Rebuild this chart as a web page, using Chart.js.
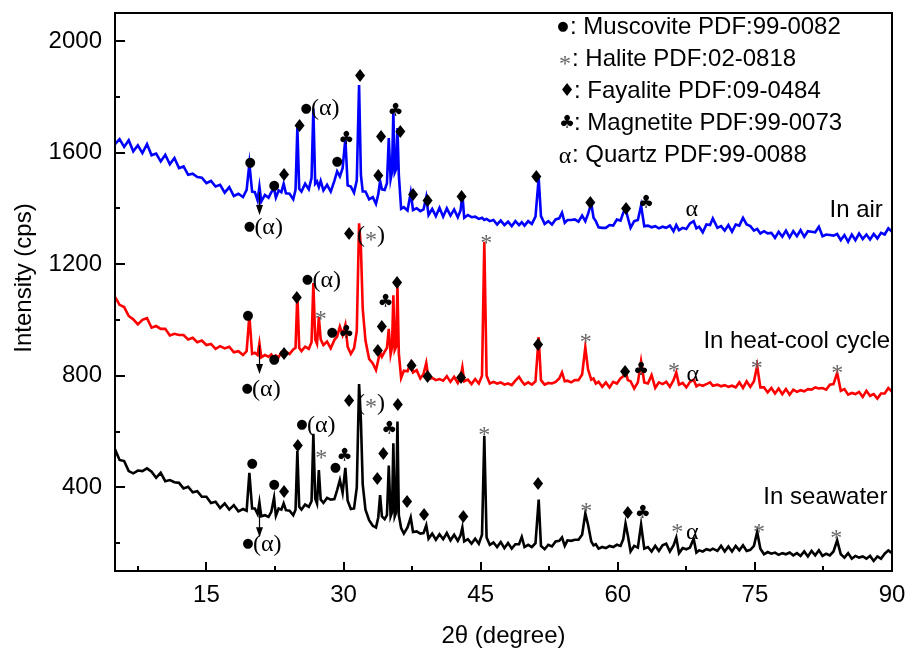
<!DOCTYPE html>
<html>
<head>
<meta charset="utf-8">
<script src="https://cdn.jsdelivr.net/npm/chart.js@4.4.0/dist/chart.umd.min.js"></script>
<style>
  html, body { margin: 0; padding: 0; background: #fff; }
</style>
</head>
<body>
<canvas id="xrd" width="906" height="649"></canvas>
<script>
// 2θ grid shared by the three patterns (degrees)
const twoTheta = [
  5, 5.5, 6, 6.5, 7, 7.5, 8, 8.5, 9, 9.5,
  10, 10.5, 11, 11.5, 12, 12.5, 13, 13.5, 14, 14.5,
  15, 15.5, 16, 16.5, 17, 17.5, 18, 18.5, 19, 19.4,
  19.7, 20.0, 20.3, 20.6, 20.8, 21.0, 21.4, 21.8, 22.1, 22.4,
  22.6, 22.9, 23.2, 23.45, 23.7, 24.1, 24.5, 24.75, 24.95, 25.15,
  25.4, 25.8, 26.2, 26.5, 26.7, 26.9, 27.1, 27.3, 27.5, 27.8,
  28.2, 28.6, 29.0, 29.3, 29.6, 29.9, 30.2, 30.45, 30.8, 31.15,
  31.45, 31.7, 31.9, 32.1, 32.4, 32.8, 33.2, 33.55, 33.8, 34.0,
  34.2, 34.5, 34.75, 34.95, 35.15, 35.3, 35.45, 35.6, 35.75, 35.9,
  36.05, 36.3, 36.6, 37.0, 37.35, 37.6, 38.0, 38.4, 38.75, 39.05,
  39.3, 39.7, 40.1, 40.5, 40.9, 41.3, 41.7, 42.1, 42.5, 42.8,
  43.0, 43.2, 43.6, 44.0, 44.4, 44.8, 45.15, 45.4, 45.65, 46.0,
  46.4, 46.8, 47.2, 47.6, 48.0, 48.4, 48.8, 49.2, 49.5, 49.8,
  50.2, 50.6, 51.0, 51.35, 51.6, 52.0, 52.4, 52.8, 53.2, 53.6,
  53.9, 54.2, 54.5, 54.9, 55.3, 55.7, 56.1, 56.45, 56.75, 57.1,
  57.35, 57.6, 57.9, 58.3, 58.7, 59.1, 59.5, 59.9, 60.3, 60.6,
  60.85, 61.1, 61.4, 61.8, 62.2, 62.55, 62.9, 63.3, 63.7, 64.1,
  64.5, 64.9, 65.3, 65.7, 66.1, 66.4, 66.7, 67.1, 67.5, 67.9,
  68.3, 68.6, 68.9, 69.3, 69.7, 70.1, 70.4, 70.9, 71.3, 71.7,
  72.1, 72.5, 72.9, 73.3, 73.7, 74.1, 74.5, 74.9, 75.25, 75.6,
  76.0, 76.4, 76.8, 77.2, 77.6, 78.0, 78.4, 78.8, 79.2, 79.6,
  80.0, 80.4, 80.8, 81.2, 81.6, 82.0, 82.4, 82.8, 83.2, 83.6,
  84.0, 84.4, 84.8, 85.2, 85.6, 86.0, 86.4, 86.8, 87.2, 87.6,
  88.0, 88.4, 88.8, 89.2, 89.6, 90.0
];

// intensity (cps)
const inAir = [
  1630, 1648, 1620, 1644, 1604, 1626, 1598, 1630, 1590, 1596,
  1568, 1592, 1558, 1580, 1544, 1550, 1520, 1524, 1512, 1510,
  1490, 1498, 1478, 1484, 1456, 1476, 1444, 1452, 1440, 1466,
  1560, 1460, 1458, 1428, 1478, 1424, 1448, 1438, 1458, 1470,
  1438, 1464, 1458, 1488, 1454, 1452, 1432, 1466, 1690, 1470,
  1460, 1488, 1468, 1508, 1758, 1488, 1496, 1476, 1498, 1464,
  1484, 1460, 1498, 1532, 1514, 1544, 1650, 1482, 1478, 1456,
  1500, 1842, 1520, 1460, 1460, 1432, 1440, 1416, 1450, 1498,
  1468, 1466, 1490, 1652, 1504, 1530, 1745, 1528, 1540, 1688,
  1520, 1398, 1404, 1392, 1456, 1394, 1400, 1390, 1396, 1440,
  1376, 1398, 1372, 1402, 1370, 1400, 1374, 1396, 1368, 1392,
  1450, 1366, 1376, 1368, 1370, 1362, 1366, 1358, 1362, 1354,
  1358, 1342, 1356, 1340, 1352, 1336, 1354, 1340, 1350, 1338,
  1354, 1344, 1370, 1508, 1372, 1344, 1354, 1342, 1360, 1364,
  1384, 1348, 1358, 1358, 1360, 1352, 1374, 1354, 1380, 1418,
  1366, 1354, 1332, 1330, 1330, 1340, 1338, 1360, 1356, 1384,
  1398, 1366, 1330, 1354, 1358, 1410, 1336, 1338, 1332, 1336,
  1328, 1334, 1330, 1338, 1318, 1340, 1322, 1330, 1326, 1346,
  1354, 1328, 1334, 1314, 1342, 1340, 1364, 1330, 1336, 1320,
  1340, 1316, 1342, 1338, 1366, 1342, 1336, 1320, 1326, 1310,
  1318, 1310, 1312, 1294, 1316, 1298, 1320, 1296, 1318, 1300,
  1322, 1298, 1318, 1316, 1314, 1334, 1300, 1306, 1304, 1302,
  1308, 1286, 1304, 1280, 1306, 1286, 1310, 1290, 1306, 1288,
  1308, 1292, 1312, 1306, 1328, 1316
];

const heatCool = [
  1082, 1054, 1046, 1014, 1002, 984, 1000, 1006, 972, 978,
  968, 968, 944, 950, 946, 946, 930, 936, 920, 926,
  910, 914, 896, 906, 898, 904, 884, 888, 874, 888,
  1016, 878, 882, 874, 916, 866, 874, 868, 876, 860,
  872, 866, 884, 880, 886, 878, 894, 900, 1094, 900,
  888, 904, 896, 920, 1132, 930, 914, 1010, 930, 910,
  922, 898, 928, 940, 976, 946, 982, 904, 878, 898,
  960, 1346, 1260, 1040, 926, 860, 844, 820, 856, 884,
  868, 886, 900, 968, 876, 900, 1088, 892, 904, 1118,
  880, 792, 818, 816, 846, 812, 820, 790, 806, 846,
  788, 792, 784, 788, 782, 798, 778, 796, 774, 794,
  830, 780, 786, 770, 788, 772, 800, 1280, 800, 772,
  778, 772, 776, 768, 772, 766, 782, 796, 780, 768,
  776, 768, 780, 938, 784, 768, 774, 772, 778, 790,
  812, 780, 782, 776, 784, 784, 804, 902, 822, 786,
  790, 772, 778, 760, 776, 758, 778, 772, 790, 798,
  818, 784, 780, 754, 776, 852, 776, 772, 802, 756,
  776, 770, 778, 760, 784, 812, 768, 774, 758, 778,
  786, 762, 768, 764, 770, 776, 764, 768, 762, 766,
  760, 764, 758, 776, 756, 780, 760, 780, 836, 758,
  758, 740, 756, 736, 754, 734, 752, 732, 750, 742,
  748, 744, 752, 750, 758, 754, 756, 750, 768, 770,
  810, 746, 752, 732, 738, 734, 742, 724, 746, 728,
  734, 718, 736, 736, 756, 742
];

const seawater = [
  536, 498, 494, 458, 450, 460, 458, 468, 456, 434,
  452, 422, 426, 418, 416, 396, 402, 382, 386, 366,
  366, 344, 348, 326, 342, 320, 336, 314, 322, 316,
  452, 324, 324, 304, 346, 296, 300, 294, 312, 362,
  298, 324, 320, 342, 318, 316, 300, 320, 530, 330,
  320, 338, 330, 350, 592, 360, 342, 462, 356, 344,
  362, 356, 358, 390, 426, 380, 470, 352, 322, 324,
  400, 770, 640, 410, 320, 282, 262, 256, 292, 372,
  296, 286, 300, 478, 296, 310, 558, 296, 310, 636,
  300, 254, 234, 256, 292, 240, 242, 234, 236, 264,
  216, 234, 212, 232, 214, 236, 210, 230, 208, 228,
  256, 206, 214, 198, 216, 198, 230, 584, 220, 194,
  202, 186, 204, 182, 200, 180, 196, 196, 222, 186,
  194, 186, 200, 356, 190, 178, 194, 188, 206, 208,
  220, 190, 210, 208, 212, 212, 230, 306, 266, 206,
  192, 196, 180, 186, 182, 190, 186, 194, 190, 214,
  270, 228, 170, 190, 184, 266, 180, 186, 170, 190,
  172, 192, 198, 170, 192, 220, 164, 182, 178, 184,
  216, 166, 174, 170, 178, 174, 180, 172, 190, 170,
  188, 170, 190, 174, 192, 172, 176, 190, 240, 180,
  160, 168, 162, 166, 158, 164, 160, 166, 156, 164,
  154, 170, 152, 172, 156, 174, 154, 162, 156, 170,
  210, 160, 148, 164, 144, 154, 148, 152, 144, 154,
  136, 152, 144, 162, 174, 164
];

const xTicks = [15, 30, 45, 60, 75, 90];
const xMinor = [7.5, 22.5, 37.5, 52.5, 67.5, 82.5];
const yTicks = [400, 800, 1200, 1600, 2000];
const yMinor = [200, 600, 1000, 1400, 1800];

// phase marks: [2θ, intensity, phase]
// M muscovite, H halite, F fayalite, G magnetite, Q quartz, MQ = ●(α), FH = ♦(∗)
const airMarks = [
  [19.8, 1562, 'M'], [19.7, 1333, 'MQ'], [22.4, 1483, 'M'], [23.5, 1515, 'F'],
  [25.2, 1691, 'F'], [25.9, 1759, 'MQ'], [29.3, 1566, 'M'], [30.3, 1648, 'G'],
  [31.8, 1870, 'F'], [33.8, 1512, 'F'], [34.1, 1652, 'F'], [35.7, 1749, 'G'],
  [36.2, 1670, 'F'], [37.6, 1444, 'F'], [39.2, 1422, 'F'], [42.9, 1437, 'F'],
  [51.1, 1508, 'F'], [57.0, 1415, 'F'], [60.9, 1394, 'F'], [63.1, 1419, 'G'],
  [68.1, 1401, 'Q']
];
const cycleMarks = [
  [19.55, 1017, 'M'], [19.45, 752, 'MQ'], [22.4, 859, 'M'], [23.5, 874, 'F'],
  [24.9, 1074, 'F'], [26.05, 1143, 'MQ'], [27.5, 1021, 'H'], [28.75, 956, 'M'],
  [30.3, 952, 'G'], [30.6, 1304, 'FH'], [33.75, 884, 'F'], [34.2, 970, 'F'],
  [34.6, 1064, 'G'], [35.85, 1128, 'F'], [37.45, 831, 'F'], [39.2, 791, 'F'],
  [42.85, 788, 'F'], [45.6, 1293, 'H'], [51.27, 906, 'F'], [56.5, 938, 'H'],
  [60.8, 809, 'F'], [62.55, 820, 'G'], [66.15, 834, 'H'], [68.2, 812, 'Q'],
  [75.2, 845, 'H'], [84.0, 827, 'H']
];
const seaMarks = [
  [20.0, 486, 'M'], [19.55, 199, 'MQ'], [22.4, 411, 'M'], [23.5, 379, 'F'],
  [25.0, 544, 'F'], [25.45, 624, 'MQ'], [27.55, 522, 'H'], [29.1, 472, 'M'],
  [30.1, 511, 'G'], [30.6, 705, 'FH'], [33.7, 425, 'F'], [34.35, 515, 'F'],
  [35.0, 606, 'G'], [35.95, 691, 'F'], [36.95, 343, 'F'], [38.8, 296, 'F'],
  [43.1, 289, 'F'], [45.4, 605, 'H'], [51.27, 407, 'F'], [56.55, 332, 'H'],
  [61.1, 303, 'F'], [62.75, 307, 'G'], [66.5, 257, 'H'], [68.15, 246, 'Q'],
  [75.45, 257, 'H'], [83.9, 235, 'H']
];

// arrows: [2θ, from intensity, to intensity]
const arrows = [[20.75, 1458, 1376], [20.75, 909, 806], [20.7, 336, 221]];

// sample names, right aligned at [2θ, intensity]
const sampleLabels = [
  [89.0, 1394, 'In air'],
  [89.8, 924, 'In heat-cool cycle'],
  [89.5, 364, 'In seawater']
];

const phaseLegend = [
  ['M', 'Muscovite PDF:99-0082'],
  ['H', 'Halite PDF:02-0818'],
  ['F', 'Fayalite PDF:09-0484'],
  ['G', 'Magnetite PDF:99-0073'],
  ['Q', 'Quartz PDF:99-0088']
];

[inAir, heatCool, seawater].forEach(s => {
  if (s.length !== twoTheta.length) throw new Error('length mismatch ' + s.length + ' vs ' + twoTheta.length);
});

const SANS = '"Liberation Sans", Arial, sans-serif';
const SERIF = '"Liberation Serif", "Times New Roman", serif';
const SYM = '"DejaVu Sans", sans-serif';
const GREY = '#666';

function drawAsterisk(ctx, px, py, size) {
  ctx.save();
  ctx.fillStyle = GREY;
  ctx.textAlign = 'center';
  ctx.textBaseline = 'alphabetic';
  ctx.font = size + 'px ' + SERIF;
  ctx.fillText('*', px, py + size * 0.5);
  ctx.restore();
}

function drawMark(ctx, key, px, py) {
  ctx.save();
  ctx.fillStyle = '#000';
  ctx.textAlign = 'center';
  ctx.textBaseline = 'middle';
  if (key === 'M' || key === 'MQ') {
    ctx.font = '13px ' + SYM;
    ctx.fillText('●', px, py);
    if (key === 'MQ') {
      ctx.textAlign = 'left';
      ctx.font = '24px ' + SERIF;
      ctx.fillText('(α)', px + 5, py + 1);
    }
  } else if (key === 'F' || key === 'FH') {
    ctx.font = '18px ' + SYM;
    ctx.fillText('♦', px, py);
    if (key === 'FH') {
      ctx.textAlign = 'left';
      ctx.font = '24px ' + SERIF;
      let cx = px + 8;
      ctx.fillText('(', cx, py + 1);
      cx += ctx.measureText('(').width;
      drawAsterisk(ctx, cx + 6, py, 24);
      cx += 12;
      ctx.fillText(')', cx, py + 1);
    }
  } else if (key === 'G') {
    ctx.font = '18px ' + SYM;
    ctx.fillText('♣', px, py);
  } else if (key === 'H') {
    drawAsterisk(ctx, px, py, 24);
  } else if (key === 'Q') {
    ctx.font = '24px ' + SERIF;
    ctx.fillText('α', px, py + 2);
  }
  ctx.restore();
}

const annotate = {
  id: 'annotate',
  afterDatasetsDraw(chart) {
    const { ctx, chartArea: a } = chart;
    const x = chart.scales.x, y = chart.scales.y;
    ctx.save();

    // frame and inward ticks
    ctx.strokeStyle = '#000';
    ctx.lineWidth = 2;
    ctx.strokeRect(a.left, a.top, a.right - a.left, a.bottom - a.top);
    ctx.beginPath();
    xTicks.forEach(v => { const p = Math.round(x.getPixelForValue(v)); ctx.moveTo(p, a.bottom); ctx.lineTo(p, a.bottom - 9); });
    xMinor.forEach(v => { const p = Math.round(x.getPixelForValue(v)); ctx.moveTo(p, a.bottom); ctx.lineTo(p, a.bottom - 5); });
    yTicks.forEach(v => { const p = Math.round(y.getPixelForValue(v)); ctx.moveTo(a.left, p); ctx.lineTo(a.left + 10, p); });
    yMinor.forEach(v => { const p = Math.round(y.getPixelForValue(v)); ctx.moveTo(a.left, p); ctx.lineTo(a.left + 5, p); });
    ctx.stroke();

    // phase marks
    [airMarks, cycleMarks, seaMarks].forEach(list => {
      list.forEach(([t, v, key]) => drawMark(ctx, key, x.getPixelForValue(t), y.getPixelForValue(v)));
    });

    // arrows
    ctx.lineWidth = 1.2;
    ctx.fillStyle = '#000';
    arrows.forEach(([t, v0, v1]) => {
      const px = Math.round(x.getPixelForValue(t)) + 0.5;
      const y0 = y.getPixelForValue(v0), y1 = y.getPixelForValue(v1);
      ctx.beginPath();
      ctx.moveTo(px, y0);
      ctx.lineTo(px, y1 - 8);
      ctx.stroke();
      ctx.beginPath();
      ctx.moveTo(px - 3.5, y1 - 10);
      ctx.lineTo(px + 3.5, y1 - 10);
      ctx.lineTo(px, y1);
      ctx.closePath();
      ctx.fill();
    });

    // sample names
    ctx.font = '24px ' + SANS;
    ctx.textAlign = 'right';
    ctx.textBaseline = 'middle';
    sampleLabels.forEach(([t, v, text]) => ctx.fillText(text, x.getPixelForValue(t), y.getPixelForValue(v)));

    // phase legend (top right)
    const symX = { M: 563, H: 565, F: 567, G: 567, Q: 565 };
    phaseLegend.forEach(([key, text], i) => {
      const ly = 27 + i * 32;
      drawMark(ctx, key, symX[key], ly);
      ctx.fillStyle = '#000';
      ctx.font = '24px ' + SANS;
      ctx.textAlign = 'left';
      ctx.textBaseline = 'middle';
      ctx.fillText(': ' + text, symX[key] + 7, ly);
    });

    // axis titles
    ctx.font = '24px ' + SANS;
    ctx.textAlign = 'center';
    ctx.textBaseline = 'alphabetic';
    ctx.fillText('2θ (degree)', (a.left + a.right) / 2, 643);
    ctx.translate(24, 278);
    ctx.rotate(-Math.PI / 2);
    ctx.textBaseline = 'middle';
    ctx.fillText('Intensity (cps)', 0, 0);
    ctx.restore();
  }
};

function series(values) {
  return twoTheta.map((t, i) => ({ x: t, y: values[i] }));
}

new Chart(document.getElementById('xrd'), {
  type: 'line',
  data: {
    datasets: [
      { label: 'In air', data: series(inAir), borderColor: '#0000ff', borderWidth: 2.6, pointRadius: 0, tension: 0 },
      { label: 'In heat-cool cycle', data: series(heatCool), borderColor: '#ff0000', borderWidth: 2.6, pointRadius: 0, tension: 0 },
      { label: 'In seawater', data: series(seawater), borderColor: '#000000', borderWidth: 2.6, pointRadius: 0, tension: 0 }
    ]
  },
  options: {
    responsive: false,
    animation: false,
    devicePixelRatio: 1,
    layout: { padding: { top: 13, right: 14, left: 0, bottom: 0 } },
    plugins: { legend: { display: false }, tooltip: { enabled: false } },
    scales: {
      x: {
        type: 'linear',
        min: 5,
        max: 90,
        grid: { display: false, drawTicks: false },
        border: { display: false },
        afterBuildTicks: s => { s.ticks = xTicks.map(v => ({ value: v })); },
        afterFit: s => { s.height = 78; s.paddingLeft = 0; s.paddingRight = 0; },
        ticks: { color: '#000', font: { family: SANS, size: 24 }, padding: 10, maxRotation: 0,
                 callback: v => String(v) }
      },
      y: {
        type: 'linear',
        min: 100,
        max: 2100,
        grid: { display: false, drawTicks: false },
        border: { display: false },
        afterBuildTicks: s => { s.ticks = yTicks.map(v => ({ value: v })); },
        afterFit: s => { s.width = 115; s.paddingTop = 0; s.paddingBottom = 0; },
        ticks: { color: '#000', font: { family: SANS, size: 24 }, padding: 13,
                 callback: v => String(v) }
      }
    }
  },
  plugins: [annotate]
});
</script>
</body>
</html>
